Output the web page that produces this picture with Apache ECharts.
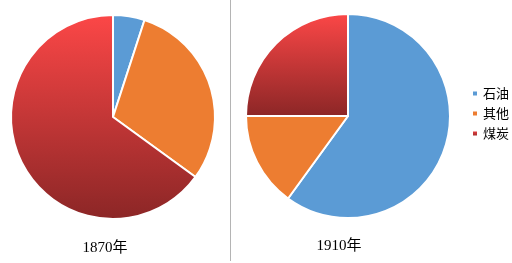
<!DOCTYPE html>
<html><head><meta charset="utf-8">
<script src="https://cdn.jsdelivr.net/npm/echarts@6/dist/echarts.min.js"></script>
<style>html,body{margin:0;padding:0;background:#fff}#c{width:512px;height:263px}</style>
</head><body><div id="c"></div>
<script>
const categories = ['石油', '其他', '煤炭'];
const years = ['1870年', '1910年'];
const values1870 = [5, 30, 65];
const values1910 = [60, 15, 25];

const colors = [
  '#5b9bd5',
  '#ed7d31',
  new echarts.graphic.LinearGradient(0, 0, 0, 1, [
    { offset: 0, color: '#fc4747' },
    { offset: 1, color: '#8b2626' }
  ])
];

function mk(vals) {
  return vals.map((v, i) => ({ name: categories[i], value: v }));
}

const chart = echarts.init(document.getElementById('c'), null, { renderer: 'canvas' });
const pieBase = {
  type: 'pie',
  radius: 102,
  startAngle: 90,
  clockwise: true,
  label: { show: false },
  labelLine: { show: false },
  silent: true,
  animation: false,
  itemStyle: { borderColor: '#fff', borderWidth: 2 }
};
chart.setOption({
  animation: false,
  color: colors,
  legend: {
    orient: 'vertical',
    left: 466,
    top: 82,
    itemWidth: 6,
    itemHeight: 6,
    itemGap: 7,
    icon: 'rect',
    data: categories,
    textStyle: { fontSize: 13, color: '#000', fontFamily: "'Noto Sans CJK SC', sans-serif" }
  },
  graphic: [
    { type: 'line', shape: { x1: 230.5, y1: 0, x2: 230.5, y2: 261 }, style: { stroke: '#b4b4b4', lineWidth: 1 } },
    { type: 'text', x: 105, y: 248, style: { text: years[0], fontSize: 15, fontFamily: "'Liberation Serif', 'Noto Sans CJK SC', serif", fill: '#000', align: 'center', verticalAlign: 'middle' } },
    { type: 'text', x: 339, y: 246, style: { text: years[1], fontSize: 15, fontFamily: "'Liberation Serif', 'Noto Sans CJK SC', serif", fill: '#000', align: 'center', verticalAlign: 'middle' } }
  ],
  series: [
    Object.assign({}, pieBase, { name: years[0], center: [113, 117], data: mk(values1870) }),
    Object.assign({}, pieBase, { name: years[1], center: [348, 116], data: mk(values1910) })
  ]
});
</script>
</body></html>
